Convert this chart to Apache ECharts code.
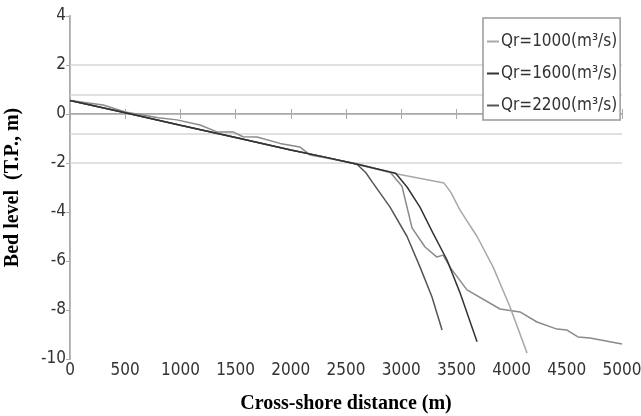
<!DOCTYPE html>
<html>
<head>
<meta charset="utf-8">
<script src="https://cdn.jsdelivr.net/npm/echarts@6/dist/echarts.min.js"></script>
<style>
  html, body { margin: 0; padding: 0; background: #fff; }
  #chart { width: 641px; height: 416px; }
</style>
</head>
<body>
<div id="chart"></div>
<script>
  // profiles: distance (m) / bed level (m)
  var x1000 = [0, 500, 1000, 1500, 2000, 2300, 2600, 2917, 3200, 3388, 3450, 3533, 3687, 3832, 3986, 4140];
  var y1000 = [0.55, 0.05, -0.46, -0.96, -1.47, -1.75, -2.05, -2.41, -2.65, -2.82, -3.2, -3.92, -5.0, -6.24, -7.88, -9.76];
  var x1600 = [0, 500, 1000, 1500, 2000, 2300, 2600, 2950, 3053, 3170, 3288, 3415, 3533, 3687];
  var y1600 = [0.55, 0.05, -0.46, -0.96, -1.47, -1.75, -2.05, -2.42, -2.98, -3.8, -4.86, -5.96, -7.3, -9.3];
  var x2200 = [0, 500, 1000, 1500, 2000, 2300, 2600, 2680, 2745, 2899, 3053, 3170, 3279, 3370];
  var y2200 = [0.55, 0.05, -0.46, -0.96, -1.47, -1.75, -2.05, -2.4, -2.82, -3.8, -5.0, -6.24, -7.47, -8.82];
  var xInit = [0, 300, 500, 800, 969, 1178, 1332, 1476, 1567, 1694, 1902, 2083, 2174, 2300, 2600, 2900, 3007, 3098, 3216, 3324, 3379, 3450, 3596, 3895, 4076, 4230, 4411, 4502, 4601, 4710, 5000];
  var yInit = [0.55, 0.37, 0.08, -0.15, -0.24, -0.45, -0.73, -0.73, -0.93, -0.94, -1.2, -1.35, -1.67, -1.78, -2.03, -2.38, -2.95, -4.65, -5.43, -5.84, -5.76, -6.3, -7.18, -7.96, -8.08, -8.49, -8.78, -8.82, -9.1, -9.14, -9.39];
  var guideLevels = [2, 0.8, -0.8, -2];
  var legendNames = ['Qr=1000(m³/s)', 'Qr=1600(m³/s)', 'Qr=2200(m³/s)'];

  function pairs(xs, ys) {
    var out = [];
    for (var i = 0; i < xs.length; i++) out.push([xs[i], ys[i]]);
    return out;
  }

  var tickFont = 'DejaVu Sans Condensed, Liberation Sans, sans-serif';
  var titleFont = 'Liberation Serif, Times New Roman, serif';

  function line(name, data, color, z) {
    return {
      name: name,
      type: 'line',
      data: data,
      showSymbol: false,
      symbol: 'none',
      z: z,
      lineStyle: { color: color, width: 1.5 },
      itemStyle: { color: color }
    };
  }

  var chart = echarts.init(document.getElementById('chart'));
  var series = [
    {
      // light tide level guides
      name: 'guides',
      type: 'line',
      data: [],
      z: 1,
      markLine: {
        silent: true,
        symbol: 'none',
        z: 1,
        label: { show: false },
        lineStyle: { color: '#d6d6d6', type: 'solid', width: 1.5 },
        data: guideLevels.map(function (v) { return [{ coord: [0, v] }, { coord: [5000, v] }]; })
      }
    },
    line(legendNames[0], pairs(x1000, y1000), '#a8a8a8', 3),
    line(legendNames[1], pairs(x1600, y1600), '#333333', 5),
    line(legendNames[2], pairs(x2200, y2200), '#555555', 4),
    line('initial', pairs(xInit, yInit), '#8a8a8a', 2)
  ];

  chart.setOption({
    animation: false,
    grid: { left: 70, right: 19, top: 16, bottom: 57, outerBoundsMode: 'none' },
    legend: {
      data: legendNames,
      orient: 'vertical',
      left: 483,
      top: 18,
      z: 20,
      padding: [15, 3, 6, 4],
      itemGap: 15,
      itemWidth: 12,
      itemHeight: 2,
      icon: 'rect',
      borderColor: '#999',
      borderWidth: 1.5,
      borderRadius: 0,
      backgroundColor: '#fff',
      textStyle: { color: '#333', fontSize: 17, fontFamily: tickFont, padding: [0, 0, 0, -3] }
    },
    xAxis: [{
      type: 'value',
      min: 0,
      max: 5000,
      interval: 500,
      name: 'Cross-shore distance (m)',
      nameLocation: 'middle',
      nameGap: 35,
      nameTextStyle: { color: '#000', fontSize: 20, fontWeight: 'bold', fontFamily: titleFont },
      axisLine: { show: true, lineStyle: { color: '#aaa', width: 2 } },
      axisTick: { show: true, inside: true, length: 5, lineStyle: { color: '#aaa' } },
      axisLabel: { color: '#333', fontSize: 17, fontFamily: tickFont, margin: 3, formatter: function (v) { return String(v); } },
      splitLine: { show: false }
    }, {
      type: 'value',
      position: 'top',
      min: 0,
      max: 5000,
      interval: 500,
      axisLine: { show: true, lineStyle: { color: '#bbb', width: 1 } },
      axisTick: { show: true, inside: true, length: 5, lineStyle: { color: '#aaa' } },
      axisLabel: { show: false },
      splitLine: { show: false }
    }],
    yAxis: [{
      type: 'value',
      min: -10,
      max: 4,
      interval: 2,
      name: 'Bed level  (T.P., m)',
      nameLocation: 'middle',
      nameGap: 47,
      nameTextStyle: { color: '#000', fontSize: 20, fontWeight: 'bold', fontFamily: titleFont },
      axisLine: { show: true, lineStyle: { color: '#aaa', width: 2 } },
      axisTick: { show: true, inside: false, length: 3, lineStyle: { color: '#aaa' } },
      axisLabel: { color: '#333', fontSize: 17, fontFamily: tickFont, margin: 4, formatter: function (v) { return String(v); } },
      splitLine: { show: false }
    }, {
      type: 'value',
      position: 'right',
      min: -10,
      max: 4,
      interval: 2,
      axisLine: { show: true, lineStyle: { color: '#bbb', width: 1 } },
      axisTick: { show: true, inside: true, length: 4, lineStyle: { color: '#aaa' } },
      axisLabel: { show: false },
      splitLine: { show: false }
    }],
    series: series
  });
</script>
</body>
</html>
